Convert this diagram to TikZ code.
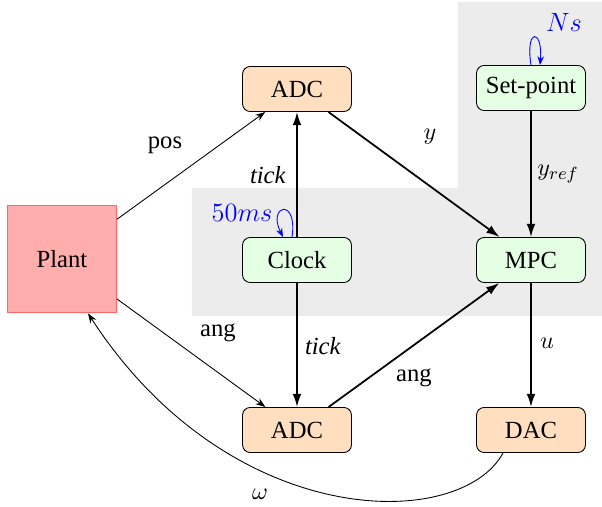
\documentclass[tikz,border=0pt]{standalone}
\usepackage{fontspec}
\setmainfont{Liberation Serif}
\usetikzlibrary{arrows.meta,calc}
\begin{document}
\begin{tikzpicture}[x=0.4545pt,y=-0.4545pt,
  font=\fontsize{11.2}{13.5}\selectfont,
  block/.style={draw, rounded corners=3.5pt, minimum width=49.5pt, minimum height=20.5pt, inner sep=1pt},
  conv/.style={block, fill=orange!25},
  ctrl/.style={block, fill=green!10},
  plantbox/.style={draw=red!60, fill=red!32, minimum width=49.5pt, minimum height=49pt},
  sig/.style={-{Stealth[length=4.5pt,width=3.2pt]}},
  bus/.style={thick, -{Latex[length=6pt,width=4pt]}},
  timer/.style={blue, -{Stealth[length=4pt,width=3pt]}},
  lbl/.style={inner sep=1pt},
  period/.style={lbl, blue, font=\fontsize{12.5}{15}\selectfont}]
\useasboundingbox (0,0) rectangle (602,507);
% shaded controller region
\fill[gray!15] (458,2) -- (602,2) -- (602,316) -- (192,316) -- (192,188) -- (458,188) -- cycle;

\node[plantbox] (plant) at (62,259) {Plant};
\node[conv] (adcA) at (297,89) {ADC};
\node[conv] (adcB) at (297,430) {ADC};
\node[ctrl] (clock) at (297,260) {Clock};
\node[ctrl] (setp) at (531,88) {Set-point};
\node[ctrl] (mpc) at (531,260) {MPC};
\node[conv] (dac) at (531,430) {DAC};

\draw[sig] (plant) -- (adcA);
\draw[sig] (plant) -- (adcB);
\draw[bus] (clock) -- (adcA);
\draw[bus] (clock) -- (adcB);
\draw[bus] (adcA) -- (mpc);
\draw[bus] (adcB) -- (mpc);
\draw[bus] (setp) -- (mpc);
\draw[bus] (mpc) -- (dac);

% feedback from the DAC back to the plant
\coordinate (fbout) at ($(dac.south)+(-28,0)$);
\coordinate (fbin) at ($(plant.south)+(26,0)$);
\draw[sig] (fbout) .. controls (460,532) and (230,532) .. (fbin);

% timer self-loops
\draw[timer] ($(clock.north)+(-5,0)$) .. controls +(6,-40) and +(-16,-32) .. ($(clock.north)+(-14,0)$);
\draw[timer] ($(setp.north)+(0,0)$) .. controls +(-6,-38) and +(3,-36) .. ($(setp.north)+(9,0)$);

\node[lbl] (lpos) at (165,145) {pos};
\node[lbl] (lang1) at (218,333) {ang};
\node[lbl] (ltick1) at (268,175) {\textit{tick}};
\node[lbl] (ltick2) at (323,346) {\textit{tick}};
\node[lbl] (ly) at (430,137) {$y$};
\node[lbl] (lyref) at (558,174) {$y_{ref}$};
\node[lbl] (lu) at (547,343) {$u$};
\node[lbl] (lang2) at (414,378) {ang};
\node[lbl] (lw) at (260,494) {$\omega$};
\node[period] (lms) at (242,213) {$50ms$};
\node[period] (lns) at (564,22) {$Ns$};
\end{tikzpicture}
\end{document}
